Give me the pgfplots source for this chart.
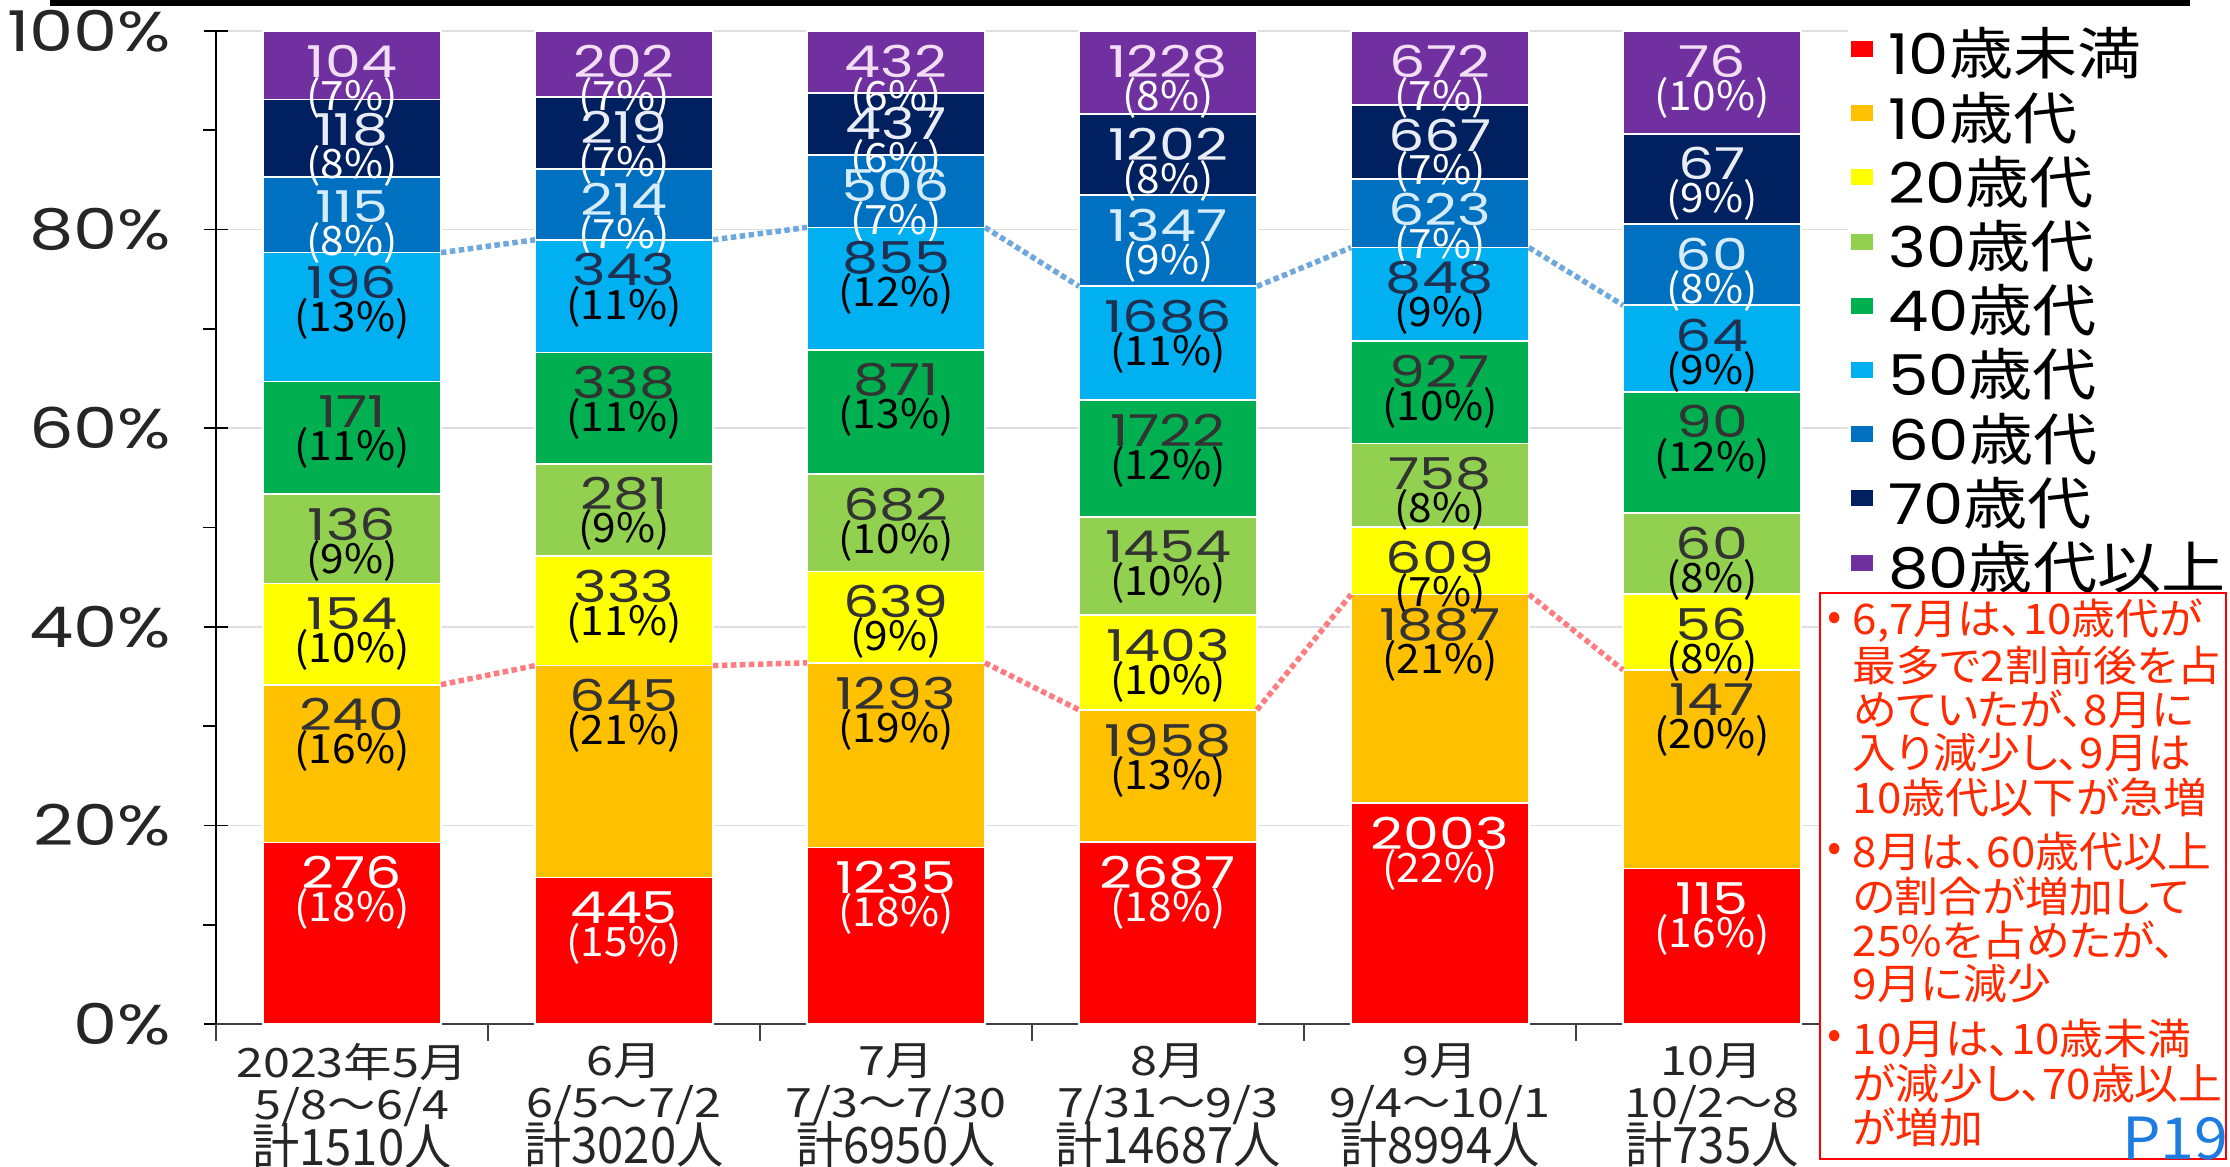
\documentclass[border=0pt]{standalone}
\usepackage{fontspec}
\setmainfont{Noto Sans CJK JP}
\newfontfamily\pop{Poppins}
\newfontfamily\boxf{Noto Sans CJK JP}[RawFeature=+palt]
\usepackage{graphicx}
\usepackage{pgfplots}
\pgfplotsset{compat=1.18}
\usepackage{pgfplotstable}

\definecolor{cA}{HTML}{FF0000}
\definecolor{cB}{HTML}{FFC000}
\definecolor{cC}{HTML}{FFFF00}
\definecolor{cD}{HTML}{92D050}
\definecolor{cE}{HTML}{00B050}
\definecolor{cF}{HTML}{00B0F0}
\definecolor{cG}{HTML}{0070C0}
\definecolor{cH}{HTML}{002060}
\definecolor{cI}{HTML}{7030A0}
\definecolor{dotred}{HTML}{FF7C80}
\definecolor{dotblue}{HTML}{6FA8DC}
\definecolor{boxred}{HTML}{FF2A00}
\definecolor{pblue}{HTML}{1C7CE0}
\definecolor{dk}{HTML}{333333}
\definecolor{navytxt}{HTML}{1F3050}
\definecolor{ltblue}{HTML}{D6ECFA}
\definecolor{ltgrey}{HTML}{E8ECF4}
\definecolor{ltpink}{HTML}{F2DDF5}

\newcommand\hs[1]{\scalebox{1.14}[1]{#1}}
\newcommand\hsb[1]{\scalebox{1.2}[1]{#1}}
\newcommand\hsy[1]{\scalebox{1.25}[1]{#1}}
\newcommand\lab[2]{\scalebox{1.3}[1]{\color{#1}\pop\fontsize{12.5}{12}\selectfont\pgfplotspointmeta}\\[-2.6pt]\scalebox{1.05}[1]{\color{#2}\fontsize{11.5}{12}\selectfont(\pgfmathprintnumber[assume math mode=true,fixed,precision=0]{\pct}\%)}}
\newcommand\xl[3]{\hsb{#1}\\\hsb{#2}\\[-2pt]{\fontsize{14.3}{14.3}\selectfont\scalebox{0.94}[1]{#3}}}

% columns: x, share of the month (%), count, rounded %
\pgfplotstableread{
x y n r
0 18.28 276 18
1 14.74 445 15
2 17.77 1235 18
3 18.30 2687 18
4 22.27 2003 22
5 15.65 115 16
}\tA
\pgfplotstableread{
x y n r
0 15.89 240 16
1 21.36 645 21
2 18.60 1293 19
3 13.33 1958 13
4 20.98 1887 21
5 20.00 147 20
}\tB
\pgfplotstableread{
x y n r
0 10.20 154 10
1 11.03 333 11
2 9.19 639 9
3 9.55 1403 10
4 6.77 609 7
5 7.62 56 8
}\tC
\pgfplotstableread{
x y n r
0 9.01 136 9
1 9.30 281 9
2 9.81 682 10
3 9.90 1454 10
4 8.43 758 8
5 8.16 60 8
}\tD
\pgfplotstableread{
x y n r
0 11.32 171 11
1 11.19 338 11
2 12.53 871 13
3 11.72 1722 12
4 10.31 927 10
5 12.24 90 12
}\tE
\pgfplotstableread{
x y n r
0 12.98 196 13
1 11.36 343 11
2 12.30 855 12
3 11.48 1686 11
4 9.43 848 9
5 8.71 64 9
}\tF
\pgfplotstableread{
x y n r
0 7.62 115 8
1 7.09 214 7
2 7.28 506 7
3 9.17 1347 9
4 6.93 623 7
5 8.16 60 8
}\tG
\pgfplotstableread{
x y n r
0 7.81 118 8
1 7.25 219 7
2 6.29 437 6
3 8.18 1202 8
4 7.42 667 7
5 9.12 67 9
}\tH
\pgfplotstableread{
x y n r
0 6.89 104 7
1 6.69 202 7
2 6.22 432 6
3 8.36 1228 8
4 7.47 672 7
5 10.34 76 10
}\tI

\pgfplotsset{
  segstyle/.style={draw=white, line width=0.5pt, point meta=explicit symbolic,
    visualization depends on={\thisrow{r}\as\pct},
    visualization depends on={\thisrow{y}\as\yv}},
}

\begin{document}
\begin{tikzpicture}
\path[use as bounding box] (0,0) rectangle (223mm,116.7mm);
\draw[line width=0.55mm] (5mm,116.4mm) -- (219mm,116.4mm);
\begin{axis}[
  at={(21.6mm,14.3mm)}, anchor=south west,
  scale only axis, width=163.2mm, height=99.3mm,
  ybar stacked, bar width=0.654,
  xmin=-0.5, xmax=5.5, ymin=0, ymax=100, enlargelimits=false, clip=false,
  axis x line*=bottom, axis y line*=left,
  x axis line style={draw=black!75, line width=0.5pt},
  y axis line style={draw=black, line width=0.6pt},
  xtick=\empty,
  ytick={0,20,40,60,80,100},
  yticklabels={{\hsy{0\%}},{\hsy{20\%}},{\hsy{40\%}},{\hsy{60\%}},{\hsy{80\%}},{\hsy{100\%}}},
  tick align=center,
  major tick length=2.4mm,
  tick style={draw=black, line width=0.5pt},
  yticklabel style={font=\pop\fontsize{16}{16}\selectfont, text=black!85, anchor=east, inner sep=0pt, xshift=-3.2mm},
  extra x ticks={0,1,2,3,4,5},
  extra x tick labels={
    {\xl{2023年5月}{5/8〜6/4}{計1510人}},
    {\xl{6月}{6/5〜7/2}{計3020人}},
    {\xl{7月}{7/3〜7/30}{計6950人}},
    {\xl{8月}{7/31〜9/3}{計14687人}},
    {\xl{9月}{9/4〜10/1}{計8994人}},
    {\xl{10月}{10/2〜8}{計735人}}},
  extra x tick style={major tick length=0pt, tick style={draw=none}},
  xticklabel style={align=center, anchor=north, inner sep=0pt, yshift=-1.9mm, text=black!85,
    font=\fontsize{11.5}{11.95}\selectfont},
  extra y ticks={10,30,50,70,90}, extra y tick labels={},
  extra y tick style={tick align=outside, major tick length=1.3mm, grid=none},
  ymajorgrids, major grid style={draw=black!13, line width=0.5pt},
  every node near coord/.append style={align=center, anchor=north, inner sep=0pt,
    font=\fontsize{11}{12}\selectfont, yshift={\yv*0.4965mm-1.3mm}},
  legend style={at={(axis description cs:1.002,1.0)}, anchor=north west, draw=none, fill=none,
    inner sep=0pt, outer sep=0pt, row sep=0pt, font=\fontsize{16}{16}\selectfont,
    nodes={inner sep=0pt, text height=4.4mm, text depth=2.02mm},
    /tikz/every odd column/.append style={column sep=1.5mm}},
  legend cell align=left,
  legend image code/.code={\fill[#1, draw=none] (0mm,0.6mm) rectangle (2.2mm,2.2mm);},
]
\addplot[fill=cA, segstyle, nodes near coords={\lab{white}{white}}] table[x=x,y=y,meta=n]{\tA};
\addlegendentry{\hs{{\pop 10}歳未満}}
\addplot[fill=cB, segstyle, nodes near coords={\lab{dk}{black}}] table[x=x,y=y,meta=n]{\tB};
\addlegendentry{\hs{{\pop 10}歳代}}
\addplot[fill=cC, segstyle, nodes near coords={\lab{dk}{black}}] table[x=x,y=y,meta=n]{\tC};
\addlegendentry{\hs{{\pop 20}歳代}}
\addplot[fill=cD, segstyle, nodes near coords={\lab{dk}{black}}] table[x=x,y=y,meta=n]{\tD};
\addlegendentry{\hs{{\pop 30}歳代}}
\addplot[fill=cE, segstyle, nodes near coords={\lab{dk}{black}}] table[x=x,y=y,meta=n]{\tE};
\addlegendentry{\hs{{\pop 40}歳代}}
\addplot[fill=cF, segstyle, nodes near coords={\lab{navytxt}{black}}] table[x=x,y=y,meta=n]{\tF};
\addlegendentry{\hs{{\pop 50}歳代}}
\addplot[fill=cG, segstyle, nodes near coords={\lab{ltblue}{white}}] table[x=x,y=y,meta=n]{\tG};
\addlegendentry{\hs{{\pop 60}歳代}}
\addplot[fill=cH, segstyle, nodes near coords={\lab{ltgrey}{white}}] table[x=x,y=y,meta=n]{\tH};
\addlegendentry{\hs{{\pop 70}歳代}}
\addplot[fill=cI, segstyle, nodes near coords={\lab{ltpink}{white}}] table[x=x,y=y,meta=n]{\tI};
\addlegendentry{\hs{{\pop 80}歳代以上}}
\end{axis}
\begin{axis}[
  at={(21.6mm,14.3mm)}, anchor=south west,
  scale only axis, width=163.2mm, height=99.3mm,
  xmin=-0.5, xmax=5.5, ymin=0, ymax=100, enlargelimits=false, clip=false,
  axis x line*=bottom, axis y line=none,
  x axis line style={draw=none},
  xtick={-0.5,0.5,1.5,2.5,3.5,4.5}, xticklabels={},
  ytick=\empty,
  tick align=outside, major tick length=1.7mm,
  tick style={draw=black!75, line width=0.5pt},
]
\addplot[dotred, line width=0.55mm, dash pattern=on 0.55mm off 0.35mm] coordinates {(0.327,34.17) (0.673,36.09)};
\addplot[dotred, line width=0.55mm, dash pattern=on 0.55mm off 0.35mm] coordinates {(1.327,36.09) (1.673,36.37)};
\addplot[dotred, line width=0.55mm, dash pattern=on 0.55mm off 0.35mm] coordinates {(2.327,36.37) (2.673,31.63)};
\addplot[dotred, line width=0.55mm, dash pattern=on 0.55mm off 0.35mm] coordinates {(3.327,31.63) (3.673,43.25)};
\addplot[dotred, line width=0.55mm, dash pattern=on 0.55mm off 0.35mm] coordinates {(4.327,43.25) (4.673,35.65)};
\addplot[dotblue, line width=0.55mm, dash pattern=on 0.55mm off 0.35mm] coordinates {(0.327,77.68) (0.673,78.97)};
\addplot[dotblue, line width=0.55mm, dash pattern=on 0.55mm off 0.35mm] coordinates {(1.327,78.97) (1.673,80.22)};
\addplot[dotblue, line width=0.55mm, dash pattern=on 0.55mm off 0.35mm] coordinates {(2.327,80.22) (2.673,74.28)};
\addplot[dotblue, line width=0.55mm, dash pattern=on 0.55mm off 0.35mm] coordinates {(3.327,74.28) (3.673,78.19)};
\addplot[dotblue, line width=0.55mm, dash pattern=on 0.55mm off 0.35mm] coordinates {(4.327,78.19) (4.673,72.38)};
\end{axis}
\draw[draw=red, line width=0.6pt, fill=white] (182.0mm,0.8mm) rectangle (222.6mm,57.4mm);
\begin{scope}[every node/.style={anchor=west, inner sep=0pt, text=boxred, font=\boxf\fontsize{12}{12}\selectfont}]
\node at (182.7mm,54.6mm) {•};
\node at (185.2mm,54.6mm) {\scalebox{1.04}[1]{6,7月は、10歳代が}};
\node at (185.2mm,50.2mm) {\scalebox{1.04}[1]{最多で2割前後を占}};
\node at (185.2mm,45.8mm) {\scalebox{1.04}[1]{めていたが、8月に}};
\node at (185.2mm,41.4mm) {\scalebox{1.04}[1]{入り減少し、9月は}};
\node at (185.2mm,37.0mm) {\scalebox{1.04}[1]{10歳代以下が急増}};
\node at (182.7mm,31.5mm) {•};
\node at (185.2mm,31.5mm) {\scalebox{1.04}[1]{8月は、60歳代以上}};
\node at (185.2mm,27.1mm) {\scalebox{1.04}[1]{の割合が増加して}};
\node at (185.2mm,22.7mm) {\scalebox{1.04}[1]{25\%を占めたが、}};
\node at (185.2mm,18.3mm) {\scalebox{1.04}[1]{9月に減少}};
\node at (182.7mm,12.8mm) {•};
\node at (185.2mm,12.8mm) {\scalebox{1.04}[1]{10月は、10歳未満}};
\node at (185.2mm,8.4mm) {\scalebox{1.04}[1]{が減少し、70歳以上}};
\node at (185.2mm,4.0mm) {\scalebox{1.04}[1]{が増加}};
\end{scope}
\node[anchor=base east, inner sep=0pt, text=pblue, font=\fontsize{16.5}{16.5}\selectfont] at (222.9mm,0.7mm) {\scalebox{1.05}[1]{P19}};
\end{tikzpicture}
\end{document}
